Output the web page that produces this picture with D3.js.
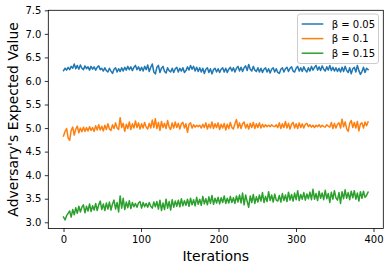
<!DOCTYPE html>
<html><head><meta charset="utf-8">
<script src="https://cdn.jsdelivr.net/npm/d3@7/dist/d3.min.js"></script>
<style>
body{margin:0;background:#fff;}
text{font-family:"DejaVu Sans",sans-serif;fill:#000;}
</style></head><body>
<svg id="chart" width="390" height="270"></svg>
<script>
const seriesNames = ["β = 0.05", "β = 0.1", "β = 0.15"];
const seriesColors = ["#1f77b4", "#ff7f0e", "#2ca02c"];
const xTicks = [0, 100, 200, 300, 400];
const yTicks = [3.0, 3.5, 4.0, 4.5, 5.0, 5.5, 6.0, 6.5, 7.0, 7.5];

const beta005 = [
6.22,6.27,6.23,6.29,6.24,6.31,6.27,6.36,6.26,6.33,6.25,6.34,6.27,6.24,6.32,6.26,6.30,6.23,6.31,6.25,
6.30,6.23,6.29,6.32,6.24,6.27,6.21,6.28,6.22,6.19,6.27,6.21,6.16,6.25,6.28,6.19,6.26,6.20,6.28,6.21,
6.29,6.23,6.31,6.24,6.30,6.22,6.29,6.33,6.24,6.30,6.22,6.29,6.21,6.31,6.24,6.34,6.20,6.29,6.36,6.19,
6.15,6.29,6.33,6.18,6.27,6.31,6.20,6.17,6.28,6.22,6.19,6.27,6.18,6.26,6.29,6.19,6.27,6.21,6.28,6.18,
6.22,6.30,6.23,6.33,6.25,6.31,6.21,6.29,6.20,6.28,6.19,6.27,6.16,6.25,6.28,6.18,6.26,6.15,6.24,6.27,
6.19,6.26,6.18,6.25,6.28,6.19,6.27,6.18,6.25,6.29,6.21,6.28,6.19,6.27,6.31,6.21,6.29,6.20,6.28,6.32,
6.22,6.35,6.25,6.21,6.31,6.23,6.20,6.28,6.19,6.27,6.18,6.25,6.28,6.19,6.26,6.17,6.25,6.28,6.19,6.26,
6.18,6.16,6.25,6.28,6.19,6.26,6.29,6.20,6.27,6.30,6.21,6.19,6.27,6.31,6.21,6.28,6.20,6.30,6.23,6.19,
6.28,6.21,6.31,6.23,6.29,6.33,6.23,6.30,6.22,6.32,6.25,6.21,6.30,6.23,6.33,6.22,6.29,6.21,6.28,6.20,
6.27,6.19,6.29,6.20,6.31,6.22,6.18,6.28,6.15,6.26,6.29,6.19,6.33,6.22,6.14,6.20,6.29,6.18,6.27,6.24];

const beta010 = [
4.83,4.93,4.99,4.79,4.74,4.95,5.02,4.85,4.98,5.04,4.90,5.00,4.92,5.02,4.93,5.01,4.94,5.03,4.95,5.01,
4.93,5.05,4.96,5.07,4.96,5.04,4.94,5.06,4.97,5.09,4.98,4.95,5.07,4.99,5.11,5.00,4.97,5.22,5.01,5.10,
4.93,5.08,4.99,5.13,4.97,5.09,5.00,5.15,5.01,5.11,4.98,5.09,5.00,5.12,5.02,4.98,5.10,5.00,5.17,5.01,
5.20,4.99,5.12,4.95,5.14,5.01,5.10,4.99,5.16,5.02,4.97,5.11,5.00,5.13,5.01,5.10,4.98,5.09,5.12,5.00,
5.09,4.91,5.08,5.11,5.00,5.07,5.02,5.06,5.03,5.06,5.00,5.08,5.01,5.11,4.98,5.08,5.00,5.13,4.99,5.09,
5.01,5.11,4.97,5.08,5.00,5.10,4.96,5.08,4.99,5.12,5.01,4.98,5.09,5.18,5.00,5.11,4.99,5.09,5.13,5.00,
5.08,4.98,5.10,5.01,5.12,4.99,5.09,5.01,5.11,5.00,5.08,5.02,5.07,5.03,5.06,5.03,5.07,5.04,5.03,5.07,
5.01,5.11,4.99,5.09,5.01,5.14,5.00,5.10,4.98,5.08,5.12,5.00,5.09,4.99,5.11,5.01,5.09,5.00,5.08,5.10,
5.03,5.07,5.02,5.06,5.01,5.06,5.03,5.07,5.02,5.06,5.03,5.02,5.07,5.04,5.02,5.12,4.99,5.10,5.00,5.08,
5.11,5.00,5.19,5.03,5.13,4.99,4.93,5.10,5.16,5.01,5.12,5.00,5.14,4.94,5.09,5.11,5.00,5.13,5.05,5.13];

const beta015 = [
3.11,3.05,3.14,3.19,3.24,3.11,3.27,3.16,3.31,3.19,3.34,3.22,3.32,3.37,3.20,3.34,3.24,3.39,3.23,3.35,
3.26,3.40,3.25,3.37,3.45,3.27,3.39,3.25,3.41,3.28,3.43,3.26,3.39,3.47,3.28,3.42,3.22,3.56,3.30,3.51,
3.27,3.43,3.31,3.46,3.29,3.42,3.33,3.40,3.32,3.41,3.44,3.30,3.42,3.33,3.40,3.32,3.42,3.34,3.30,3.43,
3.33,3.44,3.28,3.47,3.25,3.41,3.27,3.49,3.30,3.44,3.26,3.48,3.32,3.45,3.34,3.47,3.33,3.50,3.35,3.46,
3.36,3.49,3.34,3.51,3.37,3.48,3.35,3.53,3.38,3.49,3.36,3.55,3.39,3.50,3.37,3.54,3.40,3.57,3.38,3.51,
3.41,3.53,3.39,3.52,3.42,3.56,3.40,3.51,3.41,3.55,3.42,3.52,3.40,3.56,3.43,3.58,3.41,3.62,3.37,3.58,
3.44,3.32,3.56,3.42,3.59,3.40,3.54,3.43,3.58,3.45,3.63,3.42,3.55,3.44,3.65,3.46,3.58,3.43,3.60,3.47,
3.45,3.57,3.43,3.61,3.46,3.58,3.44,3.64,3.47,3.59,3.45,3.62,3.48,3.67,3.46,3.59,3.49,3.63,3.47,3.60,
3.50,3.64,3.48,3.70,3.49,3.61,3.46,3.66,3.51,3.62,3.48,3.68,3.50,3.61,3.42,3.64,3.49,3.67,3.52,3.47,
3.63,3.40,3.65,3.50,3.69,3.51,3.63,3.48,3.66,3.52,3.67,3.49,3.62,3.45,3.65,3.51,3.66,3.53,3.57,3.64];

const lastIteration = 393;
const iterations = beta005.map((_, i) => i * lastIteration / (beta005.length - 1));
const seriesValues = [beta005, beta010, beta015];

const svg = d3.select("#chart");
const L = 48.3, R = 383.3, T = 10.3, B = 228.5;

const x = d3.scaleLinear().domain([-19.65, 412.65]).range([L, R]);
const y = d3.scaleLinear().domain([2.868, 7.5]).range([B, T]);

const line = d3.line().x((d, i) => x(iterations[i])).y(d => y(d));

seriesValues.forEach((vals, k) => {
  svg.append("path").datum(vals)
    .attr("d", line)
    .attr("fill", "none")
    .attr("stroke", seriesColors[k])
    .attr("stroke-width", 1.5)
    .attr("stroke-linejoin", "round")
    .attr("stroke-linecap", "square");
});

// axes
const xAxis = svg.append("g").attr("transform", `translate(0,${B})`)
  .call(d3.axisBottom(x).tickValues(xTicks).tickSize(3.5).tickPadding(3.5).tickFormat(d3.format("d")));
const yAxis = svg.append("g").attr("transform", `translate(${L},0)`)
  .call(d3.axisLeft(y).tickValues(yTicks).tickSize(3.5).tickPadding(3.5).tickFormat(d3.format(".1f")));
[xAxis, yAxis].forEach(g => {
  g.select(".domain").remove();
  g.selectAll(".tick line").attr("stroke", "#000").attr("stroke-width", 0.8);
  g.selectAll(".tick text").attr("font-size", 10).attr("font-family", "DejaVu Sans").attr("fill", "#000");
});

// spines
svg.append("rect").attr("x", L).attr("y", T).attr("width", R - L).attr("height", B - T)
  .attr("fill", "none").attr("stroke", "#000").attr("stroke-width", 0.8);

// axis labels
svg.append("text").attr("x", (L + R) / 2).attr("y", 260.7)
  .attr("text-anchor", "middle").attr("font-size", 14).text("Iterations");
svg.append("text").attr("transform", `translate(18.3,${(T + B) / 2}) rotate(-90)`)
  .attr("text-anchor", "middle").attr("font-size", 14).text("Adversary's Expected Value");

// legend
const lg = svg.append("g");
lg.append("rect").attr("x", 297.5).attr("y", 14).attr("width", 81).attr("height", 49.5)
  .attr("rx", 2.5).attr("fill", "#fff").attr("fill-opacity", 0.8)
  .attr("stroke", "#cccccc").attr("stroke-width", 1);
seriesNames.forEach((name, k) => {
  const yy = 24 + k * 14.6;
  lg.append("line").attr("x1", 301.7).attr("x2", 323.3).attr("y1", yy).attr("y2", yy)
    .attr("stroke", seriesColors[k]).attr("stroke-width", 1.5);
  lg.append("text").attr("x", 331.7).attr("y", yy + 3.6).attr("font-size", 10).text(name);
});
</script>
</body></html>
